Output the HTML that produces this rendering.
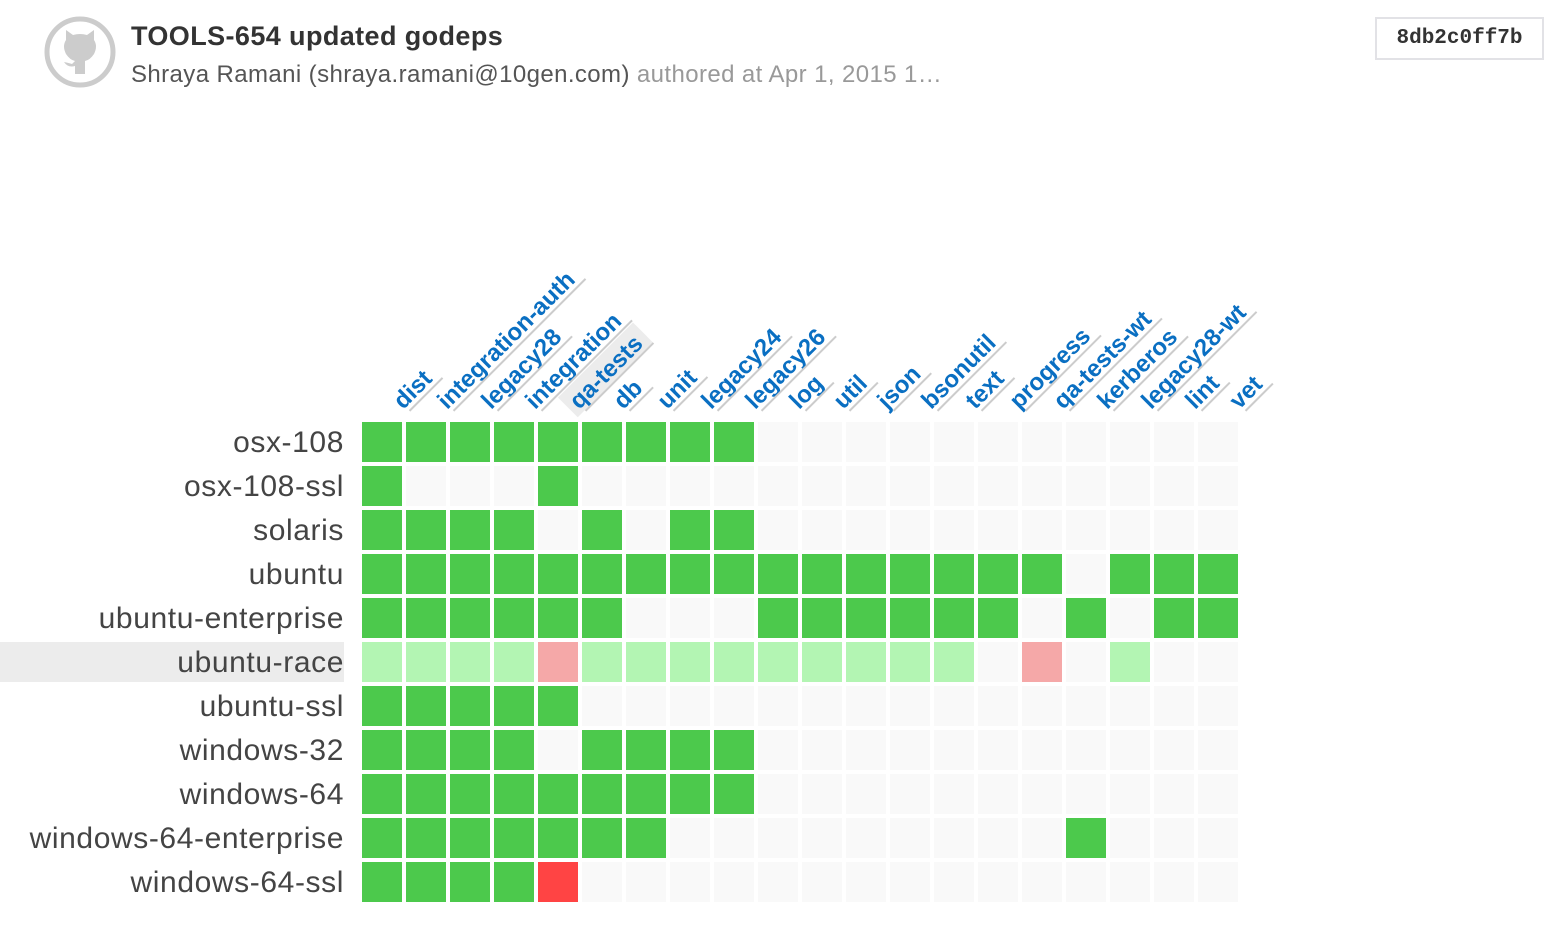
<!DOCTYPE html>
<html><head><meta charset="utf-8"><style>
body{margin:0;width:1564px;height:948px;background:#fff;font-family:"Liberation Sans",sans-serif;overflow:hidden;position:relative}
.title{position:absolute;left:131px;top:21px;font-size:27px;font-weight:bold;color:#333;letter-spacing:0.4px}
.sub{position:absolute;left:131px;top:61px;font-size:24px;color:#999;letter-spacing:0.4px}
.sub b{font-weight:normal;color:#555}
.hash{position:absolute;left:1375px;top:17px;width:165px;height:39px;border:2px solid #e2e2e6;box-sizing:content-box;font-family:"Liberation Mono",monospace;font-weight:bold;font-size:21px;color:#333;text-align:center;line-height:39px}
</style></head><body>
<svg style="position:absolute;left:44px;top:16px" width="72" height="72" viewBox="0 0 72 72">
<circle cx="36" cy="36" r="33" fill="none" stroke="#ccc" stroke-width="5"/>
<path d="M22 24 L22 14 L29 19 Q36 17 43 19 L50 14 L50 24 Q54 30 50 38 Q46 44 41 45 L41 58 L31 58 L31 50 Q24 52 20 46 Q25 47 28 48 L31 45 Q26 44 22 38 Q18 30 22 24Z" fill="#ccc"/>
</svg>
<div class="title">TOOLS-654 updated godeps</div>
<div class="sub"><b>Shraya Ramani (shraya.ramani@10gen.com)</b> authored at Apr 1, 2015 1…</div>
<div class="hash">8db2c0ff7b</div>
<svg id="grid" style="position:absolute;left:0;top:0" width="1564" height="948"></svg>
<script>
const tasks=["dist","integration-auth","legacy28","integration","qa-tests","db","unit","legacy24","legacy26","log","util","json","bsonutil","text","progress","qa-tests-wt","kerberos","legacy28-wt","lint","vet"];
const variants=["osx-108","osx-108-ssl","solaris","ubuntu","ubuntu-enterprise","ubuntu-race","ubuntu-ssl","windows-32","windows-64","windows-64-enterprise","windows-64-ssl"];
// 0 none, 1 pass, 2 fail
const statuses=[
"11111111100000000000",
"10001000000000000000",
"11110101100000000000",
"11111111111111110111",
"11111100011111101011",
"11112111111111020100",
"11111000000000000000",
"11110111100000000000",
"11111111100000000000",
"11111110000000001000",
"11112000000000000000"];
const hoverRow="ubuntu-race", hoverCol="qa-tests";
const NS="http://www.w3.org/2000/svg", svg=document.getElementById('grid');
const x0=362,y0=422,step=44,cs=40;
const colX=i=>x0+i*step, rowY=j=>y0+j*step;
function mk(t,a){const e=document.createElementNS(NS,t);for(const k in a)e.setAttribute(k,a[k]);svg.appendChild(e);return e;}
const cols={0:"#f9f9f9",1:"#4cc94c",2:"#ff4444"}, faded={0:"#f9f9f9",1:"#b3f5b3",2:"#f5a8a8"};
variants.forEach((v,j)=>{
  if(v===hoverRow){const r=mk('rect',{x:0,y:rowY(j),width:344,height:cs,fill:"#ececec"});
    
    }
  const t=mk('text',{x:344,y:rowY(j)+30,'text-anchor':'end','font-size':30,'letter-spacing':0.6,fill:'#444'});
  t.textContent=v;
  
  
  tasks.forEach((tk,i)=>{
    const s=+statuses[j][i];
    const c=mk('rect',{x:colX(i),y:rowY(j),width:cs,height:cs,fill:(v===hoverRow?faded:cols)[s]});
    
    
  });
});
tasks.forEach((tk,i)=>{
  const g=mk('g',{transform:`translate(${colX(i)+44},${y0-9}) rotate(-45)`});
  const t=document.createElementNS(NS,'text');
  t.setAttribute('x',0);t.setAttribute('y',-4);t.setAttribute('font-size',24);t.setAttribute('font-weight','bold');t.setAttribute('fill','#0a6fc2');
  t.textContent=tk;
  
  
  g.appendChild(t);
  const w=t.getComputedTextLength();
  if(tk===hoverCol){const h=document.createElementNS(NS,'rect');
    h.setAttribute('x',-6);h.setAttribute('y',-28);h.setAttribute('width',w+14);h.setAttribute('height',28);h.setAttribute('fill','#ececec');
    
    
    g.insertBefore(h,t);}
  const l=document.createElementNS(NS,'line');
  l.setAttribute('x1',4);l.setAttribute('y1',1);l.setAttribute('x2',w+8);l.setAttribute('y2',1);
  l.setAttribute('stroke','#cccccc');l.setAttribute('stroke-width',2);
  
  
  g.appendChild(l);
});
</script>
</body></html>
